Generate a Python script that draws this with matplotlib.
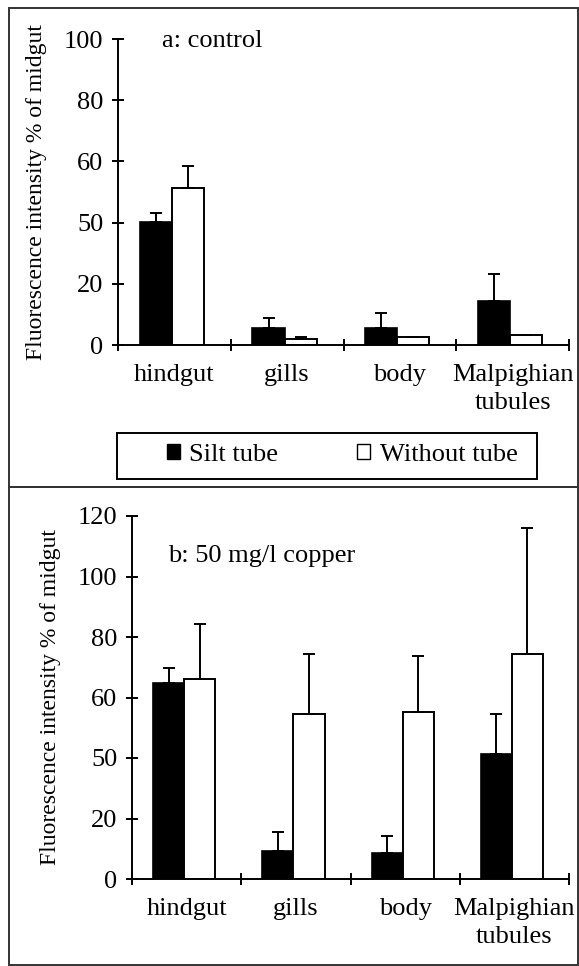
import numpy as np
import matplotlib.pyplot as plt
from matplotlib.patches import Patch, Rectangle

plt.rcParams['font.family'] = 'Liberation Serif'

# data (bar heights in axis units)
organs = ['hindgut', 'gills', 'body', 'Malpighian\ntubules']

ctrl_silt = [40.3, 5.7, 5.7, 14.5]
ctrl_silt_err = [3.0, 3.1, 4.9, 8.7]
ctrl_without = [51.3, 1.9, 2.6, 3.4]
ctrl_without_err = [7.1, 0.7, 0.0, 0.0]

cu_silt = [64.8, 9.1, 8.5, 41.4]
cu_silt_err = [4.9, 6.5, 5.6, 13.2]
cu_without = [66.2, 54.6, 55.3, 74.4]
cu_without_err = [18.2, 19.8, 18.3, 41.5]

ctrl_ticks = [0, 20, 40, 60, 80, 100]
ctrl_ticklabels = ['0', '20', '50', '60', '80', '100']
cu_ticks = [0, 20, 40, 60, 80, 100, 120]
cu_ticklabels = ['0', '20', '50', '60', '80', '100', '120']

W, H = 579, 966
FS = 19
fig = plt.figure(figsize=(W / 100, H / 100), dpi=100)


def panel(rect, silt, silt_err, without, without_err, ticks, ticklabels, title, title_xy):
    ax = fig.add_axes(rect)
    x = np.arange(len(organs))
    w = 0.285
    ax.bar(x - 0.165, silt, w, color='black', edgecolor='black', linewidth=1.2, zorder=2)
    ax.bar(x + 0.12, without, w, color='white', edgecolor='black', linewidth=1.4, zorder=2)
    ax.errorbar(x - 0.165, silt, yerr=[np.zeros(4), silt_err], fmt='none',
                ecolor='black', elinewidth=1.4, capsize=4, capthick=1.4, zorder=3)
    ax.errorbar(x + 0.12, without, yerr=[np.zeros(4), without_err], fmt='none',
                ecolor='black', elinewidth=1.4, capsize=4, capthick=1.4, zorder=3)
    ax.set_xlim(-0.5, 3.5)
    ax.set_ylim(0, ticks[-1])
    ax.set_yticks(ticks)
    ax.set_yticklabels(ticklabels)
    ax.set_xticks(np.arange(5) - 0.5)
    ax.set_xticklabels([])
    ax.set_xticks(x, minor=True)
    ax.set_xticklabels(organs, minor=True, fontsize=FS, linespacing=1.35)
    ax.tick_params(axis='x', which='minor', length=0, pad=14)
    ax.tick_params(axis='both', which='major', direction='inout', length=9, width=1.4,
                   labelsize=FS)
    ax.tick_params(axis='y', pad=6)
    for s in ['top', 'right']:
        ax.spines[s].set_visible(False)
    for s in ['left', 'bottom']:
        ax.spines[s].set_linewidth(1.4)
    ax.set_ylabel('Fluorescence intensity % of midgut', fontsize=17, labelpad=12)
    ax.text(title_xy[0], title_xy[1], title, transform=ax.transAxes, fontsize=FS,
            va='center', ha='left')
    return ax


def fx(px):
    return px / W


def fy(py):
    return 1 - py / H


# panel a: control
panel([fx(118), fy(345), fx(569 - 118), (345 - 39) / H],
      ctrl_silt, ctrl_silt_err, ctrl_without, ctrl_without_err,
      ctrl_ticks, ctrl_ticklabels, 'a: control', (0.098, 0.995))

# panel b: 50 mg/l copper
panel([fx(132), fy(879), fx(569 - 132), (879 - 516) / H],
      cu_silt, cu_silt_err, cu_without, cu_without_err,
      cu_ticks, cu_ticklabels, 'b: 50 mg/l copper', (0.083, 0.89))

# legend under panel a (frame drawn separately)
handles = [Patch(facecolor='black', edgecolor='black', label='Silt tube'),
           Patch(facecolor='white', edgecolor='black', label='Without tube')]
fig.legend(handles=handles, loc='center', ncol=2,
           bbox_to_anchor=(fx(342), fy(455)),
           frameon=False, fontsize=FS, columnspacing=3.0,
           handlelength=0.5, handleheight=0.5, handletextpad=0.35)
fig.patches.append(Rectangle((fx(117), fy(479)), fx(537 - 117), (479 - 433) / H,
                             transform=fig.transFigure, fill=False,
                             edgecolor='black', linewidth=1.4))

# boxes round the two panels
fig.patches.append(Rectangle((fx(9), fy(487)), fx(578 - 9), (487 - 8) / H,
                             transform=fig.transFigure, fill=False,
                             edgecolor='#333333', linewidth=1.4))
fig.patches.append(Rectangle((fx(9), fy(965)), fx(578 - 9), (965 - 487) / H,
                             transform=fig.transFigure, fill=False,
                             edgecolor='#333333', linewidth=1.4))

fig.savefig('out.png', dpi=100)
